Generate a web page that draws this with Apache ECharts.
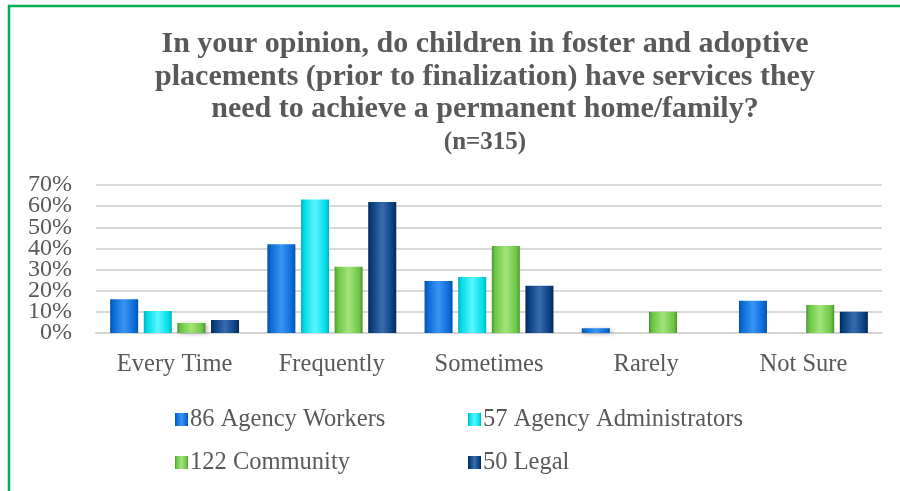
<!DOCTYPE html>
<html>
<head>
<meta charset="utf-8">
<script src="https://cdn.jsdelivr.net/npm/echarts@6/dist/echarts.min.js"></script>
<style>
html,body{margin:0;padding:0;background:#fff;}
#chart{width:900px;height:491px;}
</style>
</head>
<body>
<div id="chart"></div>
<script>
var titleLines = [
  "In your opinion, do children in foster and adoptive",
  "placements (prior to finalization) have services they",
  "need to achieve a permanent home/family?"
];
var subtitle = "(n=315)";
var categories = ["Every Time", "Frequently", "Sometimes", "Rarely", "Not Sure"];
var seriesNames = ["86 Agency Workers", "57 Agency Administrators", "122 Community", "50 Legal"];
var agencyWorkers = [0.16, 0.42, 0.246, 0.023, 0.152];
var agencyAdmins = [0.104, 0.632, 0.265, 0, 0];
var community = [0.047, 0.313, 0.412, 0.10, 0.133];
var legal = [0.062, 0.62, 0.223, 0, 0.10];
var yTicks = [0, 0.1, 0.2, 0.3, 0.4, 0.5, 0.6, 0.7];
var yTickLabels = ["0%", "10%", "20%", "30%", "40%", "50%", "60%", "70%"];

var seriesValues = [agencyWorkers, agencyAdmins, community, legal];
var palettes = [
  {dark: "#0452a8", mid: "#0a6ad6", light: "#3a94f2"},
  {dark: "#00b3bf", mid: "#00dde6", light: "#5af6ff"},
  {dark: "#4a9630", mid: "#6cc645", light: "#a2e47a"},
  {dark: "#02284f", mid: "#073f80", light: "#3a6cac"}
];
function grad(p) {
  return new echarts.graphic.LinearGradient(0, 0, 1, 0, [
    {offset: 0, color: p.dark},
    {offset: 0.12, color: p.mid},
    {offset: 0.5, color: p.light},
    {offset: 0.88, color: p.mid},
    {offset: 1, color: p.dark}
  ]);
}
var font = "'Liberation Serif', 'Times New Roman', serif";
var textColor = "#595959";

var series = seriesNames.map(function (name, i) {
  return {
    name: name,
    type: "bar",
    data: seriesValues[i],
    barGap: "20%",
    barCategoryGap: "18%",
    itemStyle: {
      color: grad(palettes[i]),
      shadowBlur: 4,
      shadowColor: "rgba(0,0,0,0.25)",
      shadowOffsetX: 2,
      shadowOffsetY: 1
    }
  };
});

var legendPos = [[175, 407], [468, 407], [175, 450], [468, 450]];
var legends = seriesNames.map(function (name, i) {
  return {
    data: [name],
    left: legendPos[i][0],
    top: legendPos[i][1],
    padding: 0,
    icon: "rect",
    itemWidth: 13,
    itemHeight: 13,
    itemGap: 0,
    textStyle: {fontFamily: font, fontSize: 24.5, color: textColor, padding: [0, 0, 0, -3]},
    selectedMode: false
  };
});

var gridLeft = 96;
var chart = echarts.init(document.getElementById("chart"), null, {renderer: "canvas"});
chart.setOption({
  backgroundColor: "#ffffff",
  animation: false,
  title: {
    text: titleLines.join("\n"),
    subtext: subtitle,
    left: 485,
    top: 28,
    padding: 0,
    textAlign: "center",
    itemGap: 4,
    textStyle: {fontFamily: font, fontSize: 30, fontWeight: "bold", color: textColor, lineHeight: 32.5},
    subtextStyle: {fontFamily: font, fontSize: 25, fontWeight: "bold", color: textColor, lineHeight: 26}
  },
  legend: legends,
  grid: {left: gridLeft, right: 18, top: 185, bottom: 158, containLabel: false},
  xAxis: {
    type: "category",
    data: categories,
    axisLine: {show: true, lineStyle: {color: "#d4d4d4", width: 2}},
    axisTick: {show: false},
    axisLabel: {fontFamily: font, fontSize: 24.5, color: textColor, margin: 19}
  },
  yAxis: {
    type: "value",
    min: yTicks[0],
    max: yTicks[yTicks.length - 1],
    interval: 0.1,
    axisLine: {show: false},
    axisTick: {show: false},
    splitLine: {lineStyle: {color: "#d9d9d9", width: 2}},
    axisLabel: {show: false}
  },
  series: series
});

// Y tick labels placed through the axis scale (labels are tight, so drawn without overlap hiding)
var graphics = [{
  type: "rect",
  shape: {x: 9, y: 6, width: 1200, height: 1000},
  style: {fill: null, stroke: "#00b050", lineWidth: 2.5},
  silent: true
}];
yTicks.forEach(function (v, i) {
  var py = chart.convertToPixel({yAxisIndex: 0}, v);
  graphics.push({
    type: "text",
    x: gridLeft - 24,
    y: py,
    silent: true,
    style: {
      text: yTickLabels[i],
      fontFamily: font,
      fontSize: 24,
      fill: textColor,
      align: "right",
      verticalAlign: "middle"
    }
  });
});
chart.setOption({graphic: graphics});
</script>
</body>
</html>
